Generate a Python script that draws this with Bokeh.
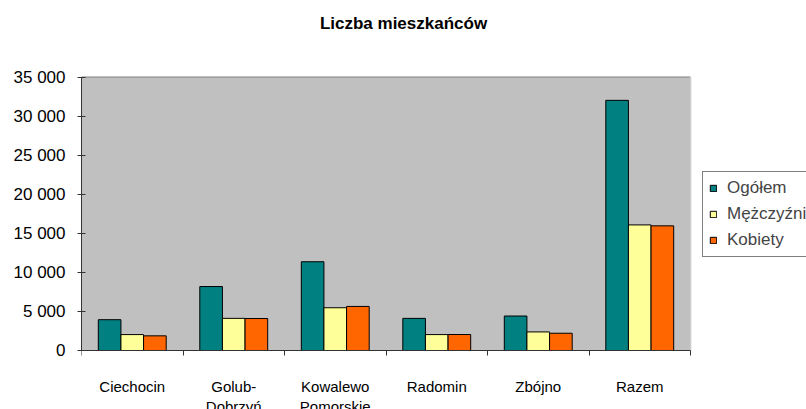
from bokeh.plotting import figure
from bokeh.models import (Range1d, LinearAxis, FixedTicker, Legend, LegendItem, ColumnDataSource,
                          BoxAnnotation, Label)
from bokeh.transform import dodge
from bokeh.embed import file_html
from bokeh.resources import INLINE

categories = ["Ciechocin", "Golub-\nDobrzyń", "Kowalewo\nPomorskie", "Radomin", "Zbójno", "Razem"]
ogolem = [3950, 8200, 11380, 4120, 4420, 32070]
mezczyzni = [2040, 4120, 5480, 2040, 2380, 16100]
kobiety = [1880, 4100, 5650, 2050, 2210, 15980]
series_names = ["Ogółem", "Mężczyźni", "Kobiety"]
colors = ["#008080", "#FFFF99", "#FF6600"]
y_ticks = [0, 5000, 10000, 15000, 20000, 25000, 30000, 35000]
y_tick_labels = ["0", "5 000", "10 000", "15 000", "20 000", "25 000", "30 000", "35 000"]
title_text = "Liczba mieszkańców"

FONT = "Liberation Sans"
n = len(categories)
centers = [i + 0.5 for i in range(n)]
boundaries = list(range(n + 1))
ymax = y_ticks[-1]

# layout (pixels): canvas 806x409, plot area 81..690 x 77..350
W, H = 806, 409
PL, PR, PT, PB = 81, 690, 77, 350
px_per_x = (PR - PL) / n
px_per_y = (PB - PT) / ymax
x_end = (W - PL) / px_per_x          # frame extends to the right canvas edge
y_end = PB / px_per_y                # ... to the top canvas edge
y_start = -(H - PB) / px_per_y       # ... and to the bottom canvas edge

source = ColumnDataSource(dict(pos=centers, ogolem=ogolem, mezczyzni=mezczyzni, kobiety=kobiety))

p = figure(x_range=Range1d(0, x_end), y_range=Range1d(y_start, y_end),
           width=W, height=H, output_backend="svg", toolbar_location=None,
           min_border_left=PL, min_border_right=0, min_border_top=0, min_border_bottom=0,
           background_fill_color="white", border_fill_color="white",
           outline_line_color=None, x_axis_location=None)

# plot area
p.add_layout(BoxAnnotation(left=0, right=n, bottom=0, top=ymax, fill_color="#C0C0C0", fill_alpha=1,
                           line_color=None, level="underlay"))
inner = y_ticks[1:-1]
p.segment(x0=[0] * len(inner), x1=[n] * len(inner), y0=inner, y1=inner,
          line_color="black", line_width=1, level="underlay")
p.line(x=[0, n], y=[ymax, ymax], line_color="#808080", line_width=2, level="underlay")
p.line(x=[n, n], y=[0, ymax], line_color="#DDDDDD", line_width=2, level="underlay")

bw = 0.223
renderers = []
for i, (col, c) in enumerate(zip(["ogolem", "mezczyzni", "kobiety"], colors)):
    r = p.vbar(x=dodge("pos", (i - 1) * bw), top=col, width=bw, source=source,
               fill_color=c, line_color="black", line_width=1)
    renderers.append(r)

p.xgrid.grid_line_color = None
p.ygrid.grid_line_color = None

# title
p.add_layout(Label(x=(403 - PL) / px_per_x, y=(PB - 23) / px_per_y, text=title_text,
                   text_font=FONT, text_font_size="17px", text_font_style="bold",
                   text_align="center", text_baseline="middle", text_color="black"))

# y axis
ya = p.yaxis[0]
ya.ticker = FixedTicker(ticks=y_ticks)
ya.bounds = (0, ymax)
ya.major_label_overrides = {t: l for t, l in zip(y_ticks, y_tick_labels)}
ya.major_label_text_font = FONT
ya.major_label_text_font_size = "17px"
ya.major_label_text_color = "black"
ya.major_tick_in = 4
ya.major_tick_out = 4
ya.minor_tick_line_color = None
ya.axis_line_color = "#333333"
ya.major_tick_line_color = "#333333"
ya.major_label_standoff = 12

# x axis at y=0: labels at category centres, tick marks at category boundaries
xa = LinearAxis(ticker=FixedTicker(ticks=centers, minor_ticks=boundaries), bounds=(0, n),
                fixed_location=0,
                major_tick_line_color=None, major_tick_out=0, major_tick_in=0,
                minor_tick_line_color="#333333", minor_tick_out=5, minor_tick_in=0,
                axis_line_color="#333333",
                major_label_text_font=FONT, major_label_text_font_size="15px",
                major_label_text_color="black", major_label_standoff=22)
xa.major_label_overrides = {c: lab for c, lab in zip(centers, categories)}
p.add_layout(xa, "below")

legend = Legend(items=[LegendItem(label=s, renderers=[r]) for s, r in zip(series_names, renderers)],
                location=(702 - PL, H - 257), orientation="vertical",
                label_text_font=FONT, label_text_font_size="17px",
                glyph_width=8, glyph_height=8, label_height=20, spacing=6, padding=6,
                label_standoff=10, margin=0, border_line_color="black",
                background_fill_color="white", background_fill_alpha=1)
p.add_layout(legend, "center")

open("out.html", "w").write(file_html(p, INLINE))
